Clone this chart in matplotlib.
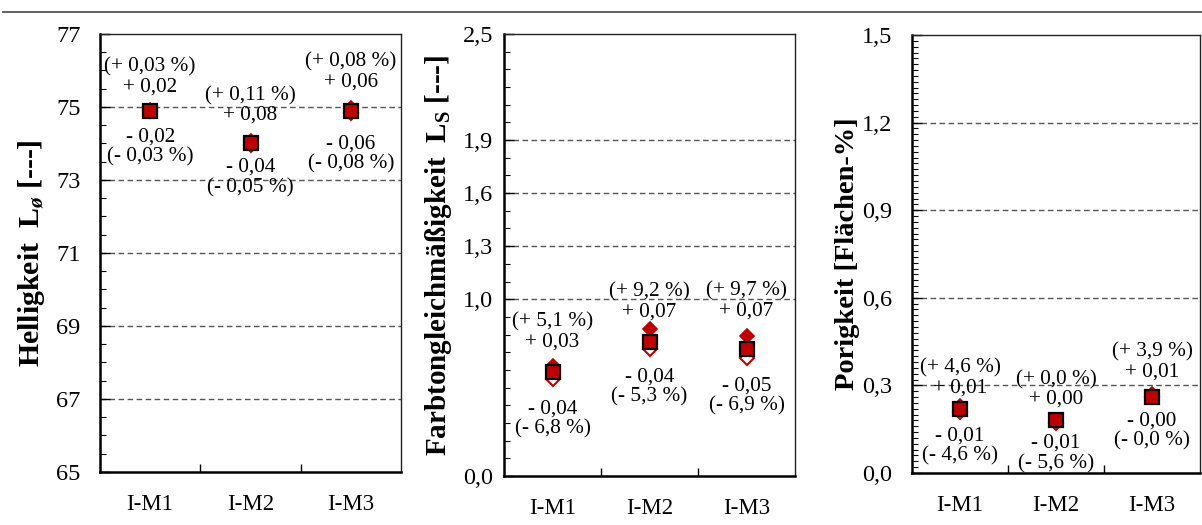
import matplotlib
matplotlib.use('Agg')
import matplotlib.pyplot as plt
from matplotlib.ticker import FixedLocator, MultipleLocator, NullFormatter, FixedFormatter
from matplotlib.lines import Line2D

plt.rcParams['font.family'] = ['Liberation Serif', 'DejaVu Serif']
plt.rcParams['mathtext.fontset'] = 'custom'
plt.rcParams['mathtext.rm'] = 'Liberation Serif:bold'
plt.rcParams['mathtext.it'] = 'Liberation Serif:bold:italic'
plt.rcParams['mathtext.bf'] = 'Liberation Serif:bold'

# ---------------- data ----------------
categories = ['I-M1', 'I-M2', 'I-M3']

hell_mean = [74.9, 74.0, 74.9]
hell_plus = [0.02, 0.08, 0.06]
hell_minus = [0.02, 0.04, 0.06]
hell_plus_lbl = ['+ 0,02', '+ 0,08', '+ 0,06']
hell_plus_pct = ['(+ 0,03 %)', '(+ 0,11 %)', '(+ 0,08 %)']
hell_minus_lbl = ['- 0,02', '- 0,04', '- 0,06']
hell_minus_pct = ['(- 0,03 %)', '(- 0,05 %)', '(- 0,08 %)']
hell_ticks = [65, 67, 69, 71, 73, 75, 77]
hell_ticklabels = ['65', '67', '69', '71', '73', '75', '77']

farb_mean = [0.59, 0.76, 0.72]
farb_plus = [0.03, 0.07, 0.07]
farb_minus = [0.04, 0.04, 0.05]
farb_plus_lbl = ['+ 0,03', '+ 0,07', '+ 0,07']
farb_plus_pct = ['(+ 5,1 %)', '(+ 9,2 %)', '(+ 9,7 %)']
farb_minus_lbl = ['- 0,04', '- 0,04', '- 0,05']
farb_minus_pct = ['(- 6,8 %)', '(- 5,3 %)', '(- 6,9 %)']
farb_ticks = [0.0, 1.0, 1.3, 1.6, 1.9, 2.5]
farb_ticklabels = ['0,0', '1,0', '1,3', '1,6', '1,9', '2,5']

pore_mean = [0.22, 0.18, 0.26]
pore_plus = [0.01, 0.00, 0.01]
pore_minus = [0.01, 0.01, 0.00]
pore_plus_lbl = ['+ 0,01', '+ 0,00', '+ 0,01']
pore_plus_pct = ['(+ 4,6 %)', '(+ 0,0 %)', '(+ 3,9 %)']
pore_minus_lbl = ['- 0,01', '- 0,01', '- 0,00']
pore_minus_pct = ['(- 4,6 %)', '(- 5,6 %)', '(- 0,0 %)']
pore_ticks = [0.0, 0.3, 0.6, 0.9, 1.2, 1.5]
pore_ticklabels = ['0,0', '0,3', '0,6', '0,9', '1,2', '1,5']

# ---------------- layout ----------------
W, H = 1202, 525
fig = plt.figure(figsize=(W / 100, H / 100), dpi=100)
RED = '#C00000'
GRID = '#555555'
PX = 0.72  # points per pixel


def box(x0, x1, top, bottom):
    return [x0 / W, 1 - bottom / H, (x1 - x0) / W, (bottom - top) / H]


panels = [
    dict(rect=box(100, 401, 34, 472), ylim=(65, 77), minor=0.5,
         ticks=hell_ticks, tl=hell_ticklabels, grid=[67, 69, 71, 73, 75],
         mean=hell_mean, plus=hell_plus, minus=hell_minus,
         pl=hell_plus_lbl, pp=hell_plus_pct, ml=hell_minus_lbl, mp=hell_minus_pct,
         up=[24, 28, 29], dn=[26, 24, 33], pad=14,
         ylabel='Helligkeit  L$_{\\mathit{ø}}$ [---]', ylx=32, yfs=21.5),
    dict(rect=box(504, 795, 34, 476), ylim=(0, 2.5), minor=0.1,
         ticks=farb_ticks, tl=farb_ticklabels, grid=[1.0, 1.3, 1.6, 1.9],
         mean=farb_mean, plus=farb_plus, minus=farb_minus,
         pl=farb_plus_lbl, pp=farb_plus_pct, ml=farb_minus_lbl, mp=farb_minus_pct,
         up=[30, 30, 38], dn=[37, 35, 37], pad=8,
         ylabel='Farbtongleichmäßigkeit  L$_{\\mathrm{S}}$ [---]', ylx=439, yfs=21),
    dict(rect=box(912, 1200, 35, 473), ylim=(0, 1.5), minor=0.02,
         ticks=pore_ticks, tl=pore_ticklabels, grid=[0.3, 0.6, 0.9, 1.2],
         mean=pore_mean, plus=pore_plus, minus=pore_minus,
         pl=pore_plus_lbl, pp=pore_plus_pct, ml=pore_minus_lbl, mp=pore_minus_pct,
         up=[21, 21, 25], dn=[27, 23, 24], pad=14,
         ylabel='Porigkeit [Flächen-%]', ylx=847, yfs=20.5),
]

xpos = list(range(1, len(categories) + 1))

for p in panels:
    ax = fig.add_axes(p['rect'])
    ax.set_xlim(0.5, 3.5)
    ax.set_ylim(*p['ylim'])
    for g in p['grid']:
        ax.axhline(g, color=GRID, lw=1.0, ls=(0, (4, 2.5)), zorder=1)
    ax.yaxis.set_major_locator(FixedLocator(p['ticks']))
    ax.yaxis.set_major_formatter(FixedFormatter(p['tl']))
    ax.yaxis.set_minor_locator(MultipleLocator(p['minor']))
    ax.tick_params(axis='y', which='major', direction='in', length=7, width=1,
                   labelsize=17.5, pad=p['pad'])
    ax.tick_params(axis='y', which='minor', direction='in', length=4.5, width=0.8)
    ax.xaxis.set_major_locator(FixedLocator(xpos))
    ax.xaxis.set_major_formatter(FixedFormatter(categories))
    ax.xaxis.set_minor_locator(FixedLocator([1.5, 2.5]))
    ax.xaxis.set_minor_formatter(NullFormatter())
    ax.tick_params(axis='x', which='major', length=0, labelsize=16.5, pad=16)
    ax.tick_params(axis='x', which='minor', direction='in', length=6, width=1)
    ax.tick_params(right=False, top=False, which='both')
    for s in ['left', 'bottom']:
        ax.spines[s].set_linewidth(1.8)
        ax.spines[s].set_color('black')
    for s in ['right', 'top']:
        ax.spines[s].set_linewidth(1.0)
        ax.spines[s].set_color('#222222')

    m, pl, mi = p['mean'], p['plus'], p['minus']
    upper = [a + b for a, b in zip(m, pl)]
    lower = [a - b for a, b in zip(m, mi)]
    ax.plot(xpos, upper, ls='none', marker='D', ms=6.8, mfc=RED, mec=RED, mew=1.2, zorder=3)
    ax.plot(xpos, lower, ls='none', marker='D', ms=6.8, mfc='white', mec=RED, mew=1.5, zorder=3)
    ax.plot(xpos, m, ls='none', marker='s', ms=9.5, mfc=RED, mec='black', mew=1.6, zorder=4)

    for i, x in enumerate(xpos):
        kw = dict(xy=(x, m[i]), textcoords='offset points', ha='center', va='center',
                  fontsize=15.3, zorder=5)
        ax.annotate(p['pl'][i], xytext=(0, p['up'][i] * PX), **kw)
        ax.annotate(p['pp'][i], xytext=(0, (p['up'][i] + 20) * PX), **kw)
        ax.annotate(p['ml'][i], xytext=(0, -p['dn'][i] * PX), **kw)
        ax.annotate(p['mp'][i], xytext=(0, -(p['dn'][i] + 20) * PX), **kw)

    ybox = p['rect']
    fig.text(p['ylx'] / W, ybox[1] + ybox[3] / 2, p['ylabel'], rotation=90,
             ha='center', va='center', fontsize=p['yfs'], fontweight='bold')

fig.add_artist(Line2D([3 / W, 1.0], [1 - 12 / H, 1 - 12 / H], transform=fig.transFigure,
                      color='#444444', lw=1.2))

fig.savefig('out.png', dpi=100)
